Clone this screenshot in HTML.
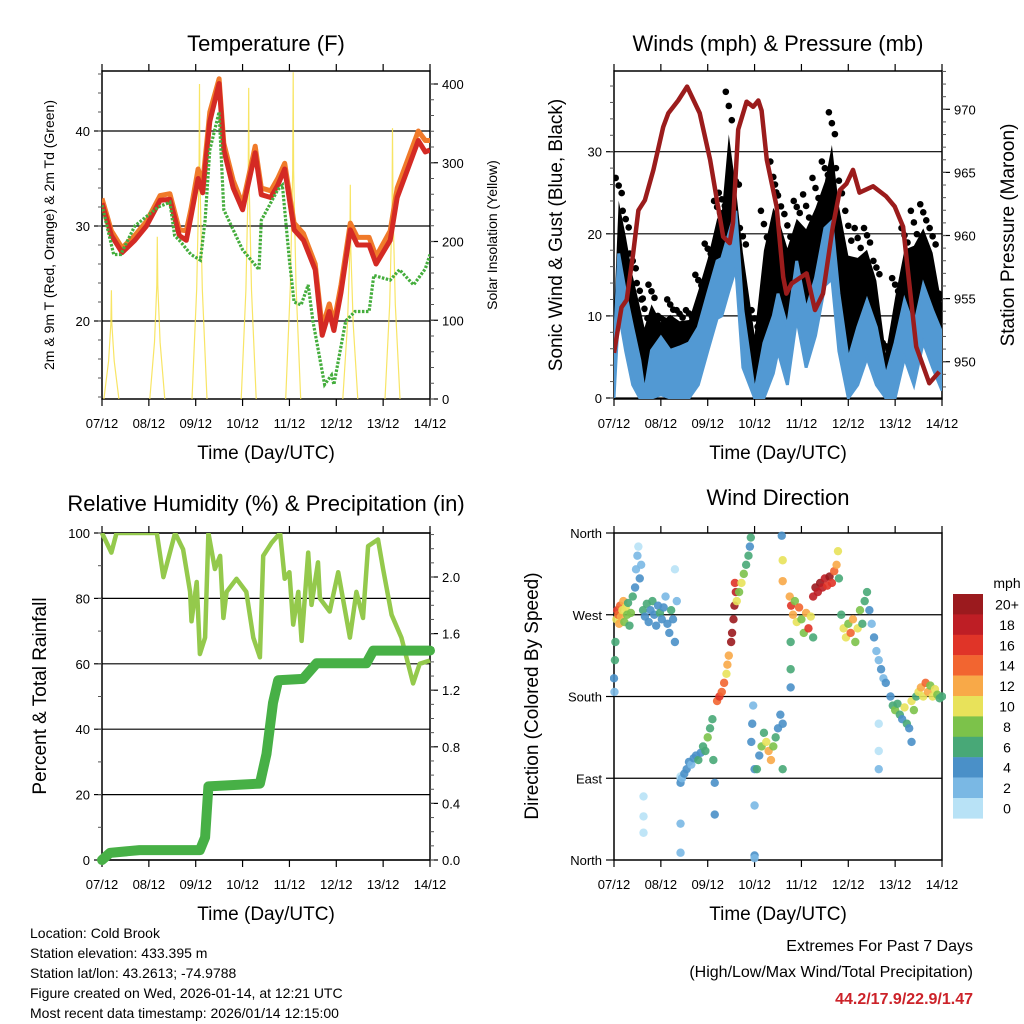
<!DOCTYPE html>
<html><head><meta charset="utf-8"><style>
body{margin:0;background:#fff;}
svg{display:block;font-family:"Liberation Sans",Arial,sans-serif;}
</style></head><body>
<svg id="c" width="1024" height="1024" viewBox="0 0 1024 1024" xmlns="http://www.w3.org/2000/svg">
<rect width="1024" height="1024" fill="#fff"/>
</svg>
<script>
// ---------- DATA ----------
const dayLabels = ["07/12","08/12","09/12","10/12","11/12","12/12","13/12","14/12"];
// Temperature (F)
const tempDays = [0,0.2,0.43,0.7,0.95,1.24,1.45,1.65,1.8,1.9,2.05,2.15,2.3,2.5,2.6,2.8,3.0,3.27,3.4,3.6,3.75,3.9,4.1,4.3,4.55,4.7,4.85,4.95,5.1,5.3,5.45,5.7,5.85,6.15,6.3,6.6,6.75,6.9,7.0];
const tempRed = [32.4,29,27.2,28.5,30,32.7,32.8,29,28.5,31,35,33.5,41,45,38,34,31.7,37.7,33.3,33,34.3,36,29.6,28.5,25.4,18.5,21,19,23,29.6,28,28,26,28.5,33,37,39,37.8,38];
const tempOrange = [32.9,29.5,27.7,29,30.5,33.2,33.4,29.6,29.5,31.8,36,34.5,42,45.5,38.7,34.8,32.3,38.4,34,33.7,35,36.6,30.3,29.2,26,19.3,21.8,19.8,23.8,30.3,28.8,28.8,26.8,29.5,34,38,40,39,39];
const dewDays = [0,0.25,0.4,0.7,1.2,1.45,1.55,1.65,1.9,2.1,2.2,2.3,2.5,2.6,3.0,3.35,3.4,3.75,3.85,4.0,4.1,4.25,4.4,4.5,4.65,4.75,4.9,4.95,5.2,5.4,5.7,5.8,6.15,6.35,6.65,6.9,7.0];
const dewVals = [32.2,27,27,30,32,32.5,29,28.5,27,26.4,30.6,38,42,31.7,27.5,25.4,30.6,33.8,34.3,26.4,22,21.7,23.8,20,16,13.3,14.3,13.3,20,21,21,24.8,24.3,25.4,23.8,25.5,27];
const solarDays = [0.2,1.18,2.08,3.13,4.08,5.3,6.2];
const solarPeak = [138,206,400,395,415,272,344];
// Winds (mph) & Pressure (mb)
const windDays = [0,0.1,0.25,0.4,0.55,0.65,0.8,1.0,1.2,1.4,1.6,1.8,2.0,2.2,2.3,2.45,2.6,2.75,3.0,3.2,3.4,3.5,3.7,3.9,4.1,4.3,4.5,4.65,4.8,5.0,5.2,5.4,5.6,5.8,6.0,6.2,6.4,6.6,6.8,7.0];
const windMean = [5.5,17.6,12.7,8.6,4.6,0.6,5.8,7.4,5.8,6.2,6.7,8.6,12.7,16.7,17,20,22.8,10.7,0.6,6.7,10,12.7,8.6,16.7,10.7,14.6,20.7,21.5,12.7,4.6,8.6,11.9,8.6,2.6,6.7,11.9,8.6,13.8,10.7,7.9];
const windGust = [12,26.8,22.8,17.6,14,12,13.8,10,12,10.7,10.7,15,18.8,24,25,37.3,26.8,20.7,10.7,22.8,28.8,26,22.4,24,24.8,26.8,28.8,34.8,28,22.8,20.7,20.7,16.7,6.7,14.6,20.7,22.8,23.6,20.7,12.7];
const presDays = [0,0.16,0.27,0.41,0.52,0.66,0.84,1.05,1.16,1.37,1.56,1.83,2.05,2.22,2.33,2.47,2.54,2.65,2.83,2.97,3.08,3.15,3.26,3.47,3.61,3.68,3.79,4.11,4.29,4.46,4.67,4.82,4.96,5.1,5.24,5.53,5.81,5.99,6.17,6.45,6.73,6.94];
const presVals = [950.7,954.3,954.9,958.6,962,962.8,965.2,968.6,969.7,970.7,971.8,969.7,966,962.3,959.9,959.4,961,968.4,970.6,970.2,970.7,969.9,966,962.3,956.7,955.4,956.2,957,954.1,955.4,960.7,963.6,964.1,965.2,963.4,963.9,963.1,962.3,960.7,951.2,948.3,949.2];
// Relative humidity (%) & precipitation (in)
const rhDays = [0,0.2,0.31,0.67,1.17,1.31,1.56,1.73,1.88,1.91,2.02,2.09,2.2,2.27,2.41,2.52,2.59,2.66,2.87,3.08,3.23,3.37,3.44,3.62,3.8,3.9,4.0,4.08,4.19,4.26,4.4,4.47,4.61,4.65,4.86,5.04,5.29,5.43,5.57,5.68,5.89,6.0,6.18,6.39,6.64,6.78,7.0];
const rhVals = [100,94,100,100,100,86.5,100,95,82,73,85,63,68,100,89,93,74,82,86,82,68,62,93,97,100,86,88,72,82,67,94,78,91,80,76,88,68,82,74,96,98,89,75,68,54,60,61];
const precipDays = [0,0.17,0.8,2.09,2.2,2.27,3.37,3.51,3.65,3.76,4.29,4.58,5.64,5.79,7.0];
const precipVals = [0,0.05,0.07,0.07,0.16,0.52,0.54,0.75,1.11,1.27,1.28,1.39,1.39,1.48,1.48];
// Wind direction scatter
const dirDays = [0,0.01,0.02,0.03,0.05,0.07,0.09,0.11,0.13,0.15,0.18,0.2,0.22,0.25,0.28,0.3,0.33,0.36,0.4,
0.45,0.47,0.5,0.52,0.55,0.58,
0.62,0.66,0.7,0.74,0.78,0.82,0.86,0.9,0.94,0.98,1.02,1.06,1.1,1.14,1.18,1.22,1.26,1.3,1.34,1.3,
0.63,0.63,0.63,1.42,1.42,1.42,1.42,
1.42,1.45,1.5,1.55,1.6,1.65,1.7,1.75,1.8,1.85,1.9,1.95,2.0,2.05,2.1,2.12,2.15,2.15,
2.2,2.25,2.3,2.35,2.4,2.42,2.45,2.5,2.52,2.55,2.57,2.6,2.58,
2.62,2.67,2.72,2.77,2.82,2.87,2.9,2.92,
2.93,2.95,2.97,3.0,3.0,3.0,3.0,
3.05,3.1,3.15,3.2,3.25,3.3,3.35,3.4,3.45,3.5,3.55,3.6,3.6,3.58,3.6,3.6,
3.75,3.78,3.82,3.86,3.9,3.95,4.0,4.05,4.1,4.15,4.2,4.25,3.77,3.77,3.77,
4.25,4.3,4.35,4.4,4.45,4.5,4.55,4.6,4.65,4.7,4.75,4.78,4.8,
4.85,4.9,4.95,5.0,5.05,5.1,5.15,5.2,5.25,5.3,5.35,5.4,
5.45,5.5,5.55,5.6,5.65,5.7,5.75,5.8,5.65,5.65,5.65,
5.9,5.95,6.0,6.05,6.1,6.15,6.2,6.25,6.3,6.35,6.4,6.45,6.35,
6.5,6.55,6.6,6.65,6.7,6.75,6.8,6.85,6.9,6.95,7.0];
const dirDeg = [200,185,220,240,265,275,270,260,280,268,275,285,262,278,270,283,258,272,290,
300,320,335,345,310,325,
275,268,282,262,275,285,270,258,280,272,265,278,290,260,250,275,265,240,285,320,
48,30,70,90,40,8,92,
85,90,95,100,108,105,112,115,110,118,125,120,135,145,155,110,85,50,
175,180,185,195,205,215,225,240,250,265,280,295,305,
285,295,305,315,325,335,345,355,
130,150,170,100,60,5,2,
100,115,125,140,130,120,110,125,135,145,160,150,100,357,330,307,
290,280,270,285,262,278,265,250,272,255,268,245,240,210,190,
290,300,295,305,300,310,302,312,305,318,325,340,310,
270,255,245,260,250,265,240,255,275,260,285,295,
275,260,245,230,220,210,200,195,150,120,100,
180,170,165,172,160,155,168,150,145,175,165,180,130,
185,190,180,195,185,192,180,188,182,178,180];
const dirSpd = [4,3,6,7,10,17,14,12,15,13,10,12,8,11,9,7,7,8,6,
5,3,2,1,4,3,
6,4,7,5,4,6,4,5,4,7,4,5,3,4,4,6,4,4,3,1,
1,1,1,2,3,2,1,
4,3,4,4,5,3,4,5,6,4,7,6,8,6,7,6,4,4,
14,16,15,14,11,13,12,20,20,21,20,18,17,
10,9,10,8,7,6,5,6,
4,4,3,4,3,4,3,
6,5,8,7,10,12,12,9,7,5,4,4,6,4,10,13,
13,16,12,9,11,14,8,8,13,16,10,7,6,6,5,
18,20,19,20,18,19,17,20,16,14,12,10,7,
6,10,11,9,14,12,8,10,8,7,7,6,
4,3,4,3,2,4,3,4,1,1,2,
5,7,9,6,7,5,10,6,4,11,8,6,4,
10,12,11,14,12,9,10,11,8,7,6];
const speedLabels = ["20+","18","16","14","12","10","8","6","4","2","0"];
const speedColors = ["#b8e2f6","#7ab8e4","#4a90c8","#48a877","#7cc24a","#e8e25a","#f8a948","#f26530","#e03428","#be1e25","#9b1a1e"];

// ---------- HELPERS ----------
const svg = document.getElementById('c');
const NS = 'http://www.w3.org/2000/svg';
function mk(tag, attrs, parent){
  const e = document.createElementNS(NS, tag);
  for (const k in attrs) e.setAttribute(k, attrs[k]);
  (parent||svg).appendChild(e);
  return e;
}
function txt(x,y,s,size,anchor,parent,extra){
  const t = mk('text',Object.assign({x:x,y:y,'font-size':size,'text-anchor':anchor||'middle',fill:'#000'},extra||{}),parent);
  t.textContent = s; return t;
}
function panel(L,T,R,B){
  return {L,T,R,B,x:d=>L+(R-L)*d/7};
}
function linY(v0,y0,v1,y1){return v=>y0+(v-v0)*(y1-y0)/(v1-v0);}
function path(xs,ys){return xs.map((x,i)=>(i?'L':'M')+x.toFixed(1)+','+ys[i].toFixed(1)).join(' ');}

function frame(p, name){
  const g = mk('g',{});
  
  
  mk('rect',{x:p.L,y:p.T,width:p.R-p.L,height:p.B-p.T,fill:'none',stroke:'#000','stroke-width':1.5},g);
  for (let i=0;i<8;i++){
    const x=p.x(i);
    mk('line',{x1:x,y1:p.B,x2:x,y2:p.B+7,stroke:'#000','stroke-width':1.2},g);
    mk('line',{x1:x,y1:p.T,x2:x,y2:p.T-7,stroke:'#000','stroke-width':1.2},g);
    const t=txt(x,p.B+29,dayLabels[i],13,'middle',g);
    
    
  }
  const xt=txt((p.L+p.R)/2,p.B+60,'Time (Day/UTC)',19,'middle',g);
  
  
  return g;
}
function yTicks(p,g,vals,fy,side,labels,grid,minorStep,vmin,vmax){
  vals.forEach((v,i)=>{
    const y=fy(v);
    if(grid) mk('line',{x1:p.L,y1:y,x2:p.R,y2:y,stroke:'#000','stroke-width':1.2},g);
    const x0 = side==='L'?p.L:p.R, dir = side==='L'?-1:1;
    mk('line',{x1:x0,y1:y,x2:x0+dir*8,y2:y,stroke:'#000','stroke-width':1.2},g);
    const t=txt(side==='L'?p.L-12:p.R+12,y+5,labels[i],13,side==='L'?'end':'start',g);
    
    
  });
  if(minorStep){
    for(let v=vmin; v<=vmax+1e-6; v+=minorStep){
      const y=fy(v); if(y<p.T-0.5||y>p.B+0.5) continue;
      const x0 = side==='L'?p.L:p.R, dir = side==='L'?-1:1;
      mk('line',{x1:x0,y1:y,x2:x0+dir*4,y2:y,stroke:'#555','stroke-width':1},g);
    }
  }
}
function yTitle(x,y,s,size,g){
  const t=txt(x,y,s,size,'middle',g,{transform:'rotate(-90 '+x+' '+y+')'});
  return t;
}
function title(x,y,s){
  const t=txt(x,y,s,22,'middle');
  
  
}

// ---------- PANEL 1: TEMPERATURE ----------
(function(){
  const p=panel(102,71,430,399);
  title(266,51,'Temperature (F)');
  const g=frame(p,'temperature');
  const fy=linY(20,321,40,131), fs=linY(0,399,400,84);
  const cp=mk('clipPath',{id:'clip1'}); mk('rect',{x:p.L,y:p.T,width:p.R-p.L,height:p.B-p.T},cp);
  const cg=mk('g',{'clip-path':'url(#clip1)'});
  solarDays.forEach((d,i)=>{
    const xs=[d-0.16,d-0.06,d-0.01,d,d+0.01,d+0.06,d+0.16].map(p.x);
    const vs=[0,0.35,0.7,1,0.7,0.35,0].map(f=>fs(f*solarPeak[i]));
    const e=mk('path',{d:path(xs,vs),fill:'none',stroke:'#f7e04a','stroke-width':1.2,opacity:0.85},cg);
    
    
  });
  let e=mk('path',{d:path(tempDays.map(p.x),tempOrange.map(fy)),fill:'none',stroke:'#f07a2a','stroke-width':5,'stroke-linejoin':'round'},cg);
  
  
  e=mk('path',{d:path(tempDays.map(p.x),tempRed.map(fy)),fill:'none',stroke:'#d42a24','stroke-width':5,'stroke-linejoin':'round'},cg);
  
  
  e=mk('path',{d:path(dewDays.map(p.x),dewVals.map(fy)),fill:'none',stroke:'#44ad3c','stroke-width':3.2,'stroke-dasharray':'2.5 1.5'},cg);
  
  
  yTicks(p,g,[20,30,40],fy,'L',['20','30','40'],true,2,12,46);
  yTicks(p,g,[0,100,200,300,400],fs,'R',['0','100','200','300','400'],false,20,0,420);
  yTitle(54,235,'2m & 9m T (Red, Orange) & 2m Td (Green)',14,g);
  yTitle(497,235,'Solar Insolation (Yellow)',14,g);
})();

// ---------- PANEL 2: WINDS & PRESSURE ----------
(function(){
  const p=panel(614,71,942,399);
  title(778,51,'Winds (mph) & Pressure (mb)');
  const g=frame(p,'winds');
  const fy=linY(0,398,30,151.7), fp=linY(950,361.7,970,109.3);
  const cp=mk('clipPath',{id:'clip2'}); mk('rect',{x:p.L,y:p.T,width:p.R-p.L,height:p.B-p.T},cp);
  const cg=mk('g',{'clip-path':'url(#clip2)'});
  const xs=windDays.map(p.x);
  const low=windMean.map(v=>fy(Math.max(0,v-7)));
  const mean=windMean.map(fy);
  const mid=windMean.map((v,i)=>fy(v+(windGust[i]-v)*0.7));
  let e=mk('path',{d:path(xs,mid)+' '+path(xs.slice().reverse(),mean.slice().reverse()).replace('M','L')+' Z',fill:'#000'},cg);
  
  
  windDays.forEach((d,i)=>{
    [1,0.9,0.8].forEach((f,k)=>{
      const v=windMean[i]+(windGust[i]-windMean[i])*f;
      const c=mk('circle',{cx:p.x(d)+(k-1)*3,cy:fy(v),r:3.3,fill:'#000'},cg);
      
      
    });
  });
  e=mk('path',{d:path(xs,mean)+' '+path(xs.slice().reverse(),low.slice().reverse()).replace('M','L')+' Z',fill:'#5299d3',stroke:'#5299d3','stroke-width':3},cg);
  
  
  e=mk('path',{d:path(presDays.map(p.x),presVals.map(fp)),fill:'none',stroke:'#9b1c1c','stroke-width':4.5,'stroke-linejoin':'round'},cg);
  
  
  yTicks(p,g,[0,10,20,30],fy,'L',['0','10','20','30'],true,2,0,38);
  yTicks(p,g,[950,955,960,965,970],fp,'R',['950','955','960','965','970'],false,1,947,973);
  yTitle(562,235,'Sonic Wind & Gust (Blue, Black)',19,g);
  yTitle(1014,235,'Station Pressure (Maroon)',19,g);
})();

// ---------- PANEL 3: RH & PRECIP ----------
(function(){
  const p=panel(102,533,430,860);
  title(266,511,'Relative Humidity (%) & Precipitation (in)');
  const g=frame(p,'humidity');
  const fy=linY(0,860,100,533), fr=linY(0,860,2.0,577);
  const cp=mk('clipPath',{id:'clip3'}); mk('rect',{x:p.L-6,y:p.T,width:p.R-p.L+12,height:p.B-p.T+6},cp);
  const cg=mk('g',{'clip-path':'url(#clip3)'});
  let e=mk('path',{d:path(rhDays.map(p.x),rhVals.map(fy)),fill:'none',stroke:'#94c94c','stroke-width':4.5,'stroke-linejoin':'round'},cg);
  
  
  e=mk('path',{d:path(precipDays.map(p.x),precipVals.map(fr)),fill:'none',stroke:'#47b046','stroke-width':10,'stroke-linejoin':'round','stroke-linecap':'round'},cg);
  
  
  yTicks(p,g,[0,20,40,60,80,100],fy,'L',['0','20','40','60','80','100'],true,10,0,100);
  yTicks(p,g,[0,0.4,0.8,1.2,1.6,2.0],fr,'R',['0.0','0.4','0.8','1.2','1.6','2.0'],false,0.1,0,2.3);
  yTitle(46,696,'Percent & Total Rainfall',19,g);
})();

// ---------- PANEL 4: WIND DIRECTION ----------
(function(){
  const p=panel(614,533,942,860);
  title(778,505,'Wind Direction');
  const g=frame(p,'wind-direction');
  const fy=linY(0,860,360,533);
  yTicks(p,g,[0,90,180,270,360],fy,'L',['North','East','South','West','North'],false,null);
  [90,180,270].forEach(v=>{
    const l=mk('line',{x1:p.L,y1:fy(v),x2:p.R,y2:fy(v),stroke:'#000','stroke-width':1.2},g);
    
    
  });
  const cp=mk('clipPath',{id:'clip4'}); mk('rect',{x:p.L-4,y:p.T-4,width:p.R-p.L+8,height:p.B-p.T+8},cp);
  const cg=mk('g',{'clip-path':'url(#clip4)'});
  dirDays.forEach((d,i)=>{
    const idx=Math.min(10,Math.floor(dirSpd[i]/2));
    const c=mk('circle',{cx:p.x(d),cy:fy(dirDeg[i]),r:4.2,fill:speedColors[idx],opacity:0.9},cg);
    
    
  });
  yTitle(538,696,'Direction (Colored By Speed)',19,g);
  const lg=mk('g',{});
  
  
  txt(1007,588,'mph',14,'middle',lg);
  speedLabels.forEach((s,i)=>{
    const y=594+i*20.4;
    const r=mk('rect',{x:953,y:y,width:30,height:20.6,fill:speedColors[10-i]},lg);
    
    
    txt(1007,y+15.5,s,14,'middle',lg);
  });
})();

// ---------- FOOTER ----------
(function(){
  const f=mk('g',{});
  
  
  ['Location: Cold Brook','Station elevation: 433.395 m','Station lat/lon: 43.2613; -74.9788','Figure created on Wed, 2026-01-14, at 12:21 UTC','Most recent data timestamp: 2026/01/14 12:15:00']
    .forEach((s,i)=>txt(30,938+i*20,s,14,'start',f));
  const x=mk('g',{});
  
  
  txt(973,951,'Extremes For Past 7 Days',16,'end',x);
  txt(973,977,'(High/Low/Max Wind/Total Precipitation)',16,'end',x);
  txt(973,1004,'44.2/17.9/22.9/1.47',16,'end',x,{fill:'#cc2229','font-weight':'bold'});
})();
</script>
</body></html>
